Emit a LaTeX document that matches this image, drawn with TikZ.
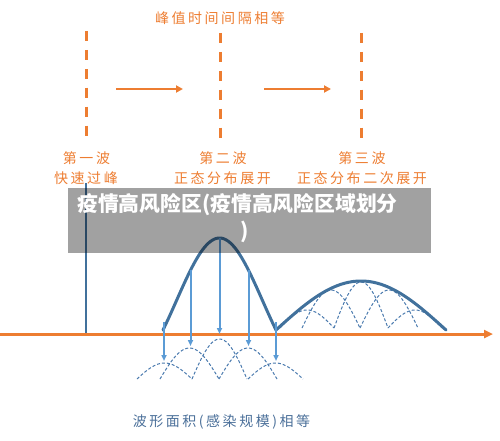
\documentclass[tikz,border=0pt]{standalone}
\usepackage{fontspec}
\newfontfamily\cjk{Noto Sans CJK SC}
\newfontfamily\cjksp{Noto Sans CJK SC}[LetterSpace=18]
\usetikzlibrary{arrows.meta}
\definecolor{myorange}{HTML}{ED7D31}
\definecolor{curveblue}{HTML}{41719C}
\definecolor{arrowblue}{HTML}{5B9BD5}
\definecolor{dashblue}{HTML}{4A7AAE}
\definecolor{textblue}{HTML}{4A6F99}
\begin{document}
\begin{tikzpicture}[x=1pt,y=-1pt,
  guide/.style={myorange, line width=3pt, dash pattern=on 10pt off 8.9pt},
  shiftarrow/.style={myorange, line width=2.5pt, -{Triangle[length=7pt,width=7pt]}},
  axisline/.style={myorange, line width=3pt, -{Triangle[length=9pt,width=8pt]}},
  wave/.style={curveblue, line width=3pt, line cap=round, line join=round},
  proj/.style={arrowblue, line width=2pt, -{Triangle[length=6pt,width=5pt]}},
  sub/.style={dashblue, line width=1pt, dash pattern=on 3pt off 2pt},
  lab/.style={text=myorange, font=\cjksp\fontsize{14}{16}\selectfont, inner sep=0pt},
  bandbox/.style={fill=black, fill opacity=0.37, draw=none, inner sep=0pt,
                  minimum width=363pt, minimum height=65pt},
  bandtext/.style={text=white, font=\cjk\bfseries\fontsize{20.8}{26}\selectfont, inner sep=0pt}]
\useasboundingbox (0,0) rectangle (500,441);

% title
\node[lab] (title) at (220,18.5) {峰值时间间隔相等};

% dashed guide lines
\coordinate (g1t) at (86,31);  \coordinate (g1b) at (86,137);
\coordinate (g2t) at (220,33); \coordinate (g2b) at (220,139);
\coordinate (g3t) at (361,33); \coordinate (g3b) at (361,139);
\draw[guide] (g1t) -- (g1b);
\draw[guide] (g2t) -- (g2b);
\draw[guide] (g3t) -- (g3b);

% shift arrows
\coordinate (s1a) at (116,89); \coordinate (s1b) at (183,89);
\coordinate (s2a) at (264,89); \coordinate (s2b) at (331,89);
\draw[shiftarrow] (s1a) -- (s1b);
\draw[shiftarrow] (s2a) -- (s2b);

% wave labels
\node[lab] (w1a) at (86.5,158.5) {第一波};
\node[lab] (w1b) at (86,178.5) {快速过峰};
\node[lab] (w2a) at (223,158.5) {第二波};
\node[lab] (w2b) at (222.5,178.5) {正态分布展开};
\node[lab] (w3a) at (362,158.5) {第三波};
\node[lab] (w3b) at (362,178.5) {正态分布二次展开};

% axis
\coordinate (ax0) at (0,334); \coordinate (ax1) at (493,334);
\draw[axisline] (ax0) -- (ax1);

% first wave: vertical line
\coordinate (v1t) at (86,183); \coordinate (v1b) at (86,333);
\draw[curveblue, line width=2.5pt] (v1t) -- (v1b);

% lower dashed sub-waves
\foreach \a/\b/\h in {137/192/16, 160/219/31, 192/247/40, 219/277/31, 248/303/16}{
  \draw[sub] plot[domain=\a:\b, samples=30] (\x,{379-\h*sin(((\x-\a)/(\b-\a))*180)});
}

% upper dashed sub-waves (inside third wave)
\begin{scope}
  \clip plot[domain=276:446, samples=60] (\x,{330-49*sin(((\x-276)/170)*180)}) -- cycle;
  \foreach \a/\b/\h in {280/334/18, 302/360/38, 334/388/46, 360/418/38, 388/442/18}{
    \draw[sub] plot[domain=\a:\b, samples=30] (\x,{328-\h*sin(((\x-\a)/(\b-\a))*180)});
  }
\end{scope}

% second and third waves
\draw[wave] plot[domain=163:276, samples=80]
  (\x,{330-92*sin(((\x-163)/113)*180)*(0.8+0.2*sin(((\x-163)/113)*180))});
\draw[wave] plot[domain=276:446, samples=80] (\x,{330-49*sin(((\x-276)/170)*180)});

% projection arrows
\pgfmathsetmacro{\sa}{sin(((190.5-163)/113)*180)}
\pgfmathsetmacro{\ya}{330-92*\sa*(0.8+0.2*\sa)}
\pgfmathsetmacro{\sb}{sin(((248.5-163)/113)*180)}
\pgfmathsetmacro{\yb}{330-92*\sb*(0.8+0.2*\sb)}
\coordinate (p1a) at (164,322);   \coordinate (p1b) at (164,361);
\coordinate (p2a) at (190.5,\ya); \coordinate (p2b) at (190.5,346);
\coordinate (p3a) at (219.5,238); \coordinate (p3b) at (219.5,334);
\coordinate (p4a) at (248.5,\yb); \coordinate (p4b) at (248.5,346);
\coordinate (p5a) at (276,322);   \coordinate (p5b) at (276,361);
\foreach \i in {1,...,5}{ \draw[proj] (p\i a) -- (p\i b); }

% bottom caption
\node[lab, text=textblue] (area) at (221.5,422) {波形面积(感染规模)相等};

% grey overlay band
\node[bandbox] (band) at (249.5,220.5) {};
\node[bandtext] (bt1) at (237.5,205) {疫情高风险区(疫情高风险区域划分};
\node[bandtext] (bt2) at (245,232) {)};
\end{tikzpicture}
\end{document}
